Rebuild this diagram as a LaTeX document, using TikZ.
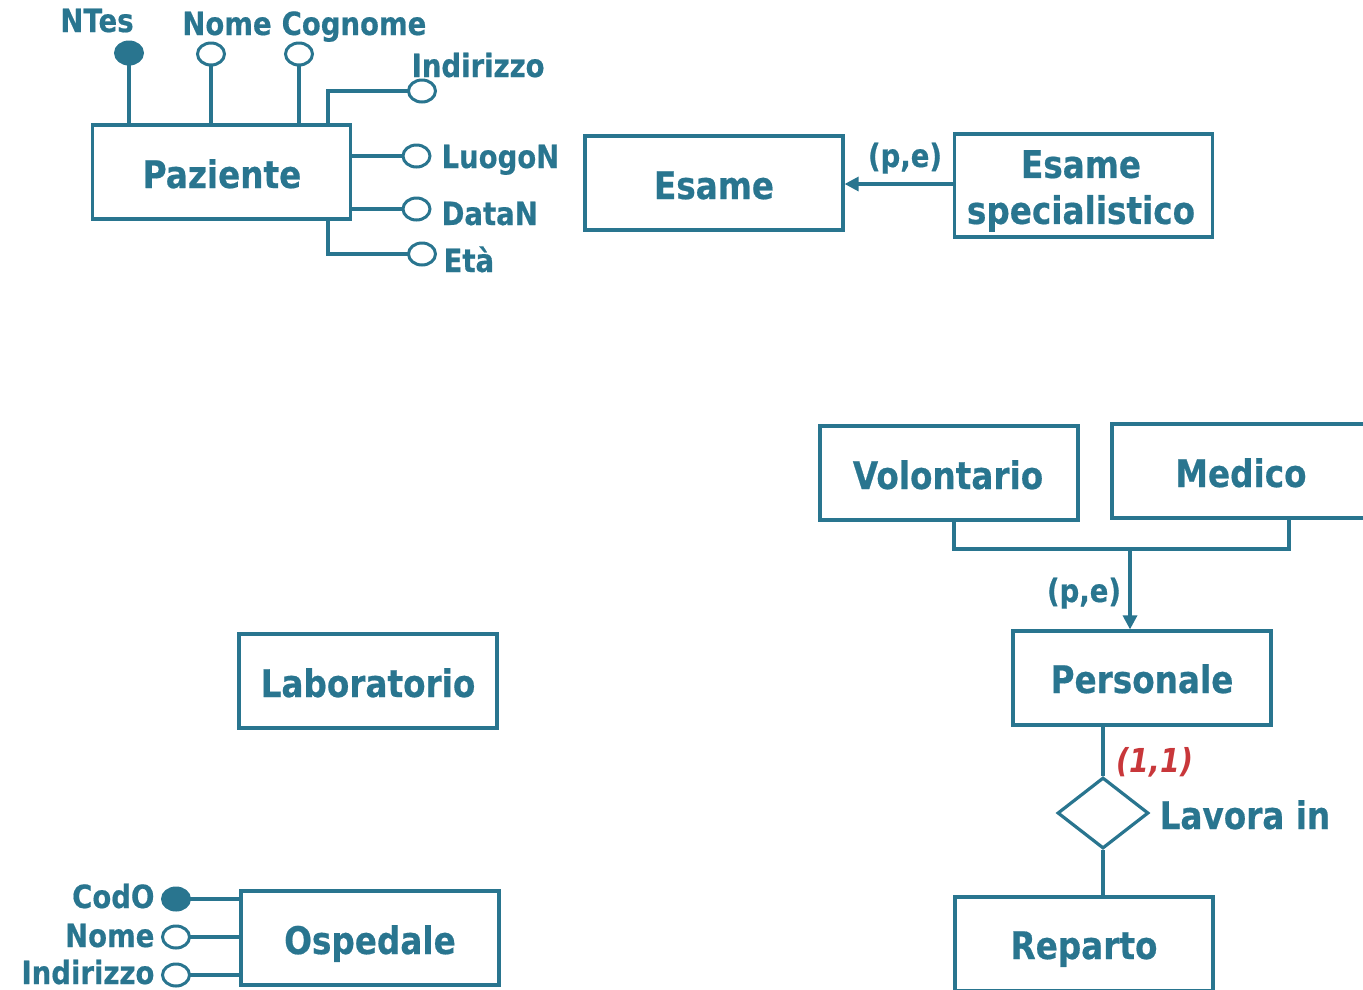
\documentclass[tikz,border=0pt]{standalone}
\usepackage{fontspec}
\setmainfont{DejaVu Sans}[FakeStretch=0.86, BoldFeatures={FakeBold=0.5}]
\usetikzlibrary{shapes.geometric,arrows.meta}
\definecolor{er}{RGB}{41,117,143}
\definecolor{card}{RGB}{200,55,58}
\begin{document}
\begin{tikzpicture}[x=1pt,y=-1pt,
  line width=3.2pt, draw=er,
  entity/.style={draw=er, line width=3.2pt, rectangle, inner sep=0,
    minimum width=258pt, minimum height=94pt},
  etext/.style={text=er, inner sep=0, anchor=base,
    font=\bfseries\fontsize{38}{46}\selectfont},
  atext/.style={text=er, inner sep=0, anchor=base,
    font=\bfseries\fontsize{32}{36}\selectfont},
  attr/.style={draw=er, line width=3pt, ellipse, fill=white, inner sep=0,
    minimum width=27pt, minimum height=22pt},
  keyattr/.style={attr, fill=er},
  rel/.style={draw=er, line width=3.2pt, diamond, aspect=1.28, inner sep=0,
    minimum width=91pt, minimum height=71pt},
  isa/.style={draw=er, line width=3.2pt, -{Triangle[length=14pt,width=14pt]}}
]
\useasboundingbox (0,0) rectangle (1363,989);

% ---------------- Paziente and its attributes ----------------
\node[entity] (paz) at (221.5,172) {};
\node[etext] (pazT) at (222,188) {Paziente};

\coordinate (pazNE) at (328,125);
\coordinate (pazSE) at (328,219);
\coordinate (cNtes) at (129,53);
\coordinate (cNome) at (211,54);
\coordinate (cCogn) at (299,54);
\coordinate (cInd) at (422,91);
\coordinate (cLuogo) at (416.5,156);
\coordinate (cData) at (416.5,209);
\coordinate (cEta) at (422,254);

% connectors first, attribute circles on top of them
\draw (cNtes) -- (cNtes |- paz.north);
\draw (cNome) -- (cNome |- paz.north);
\draw (cCogn) -- (cCogn |- paz.north);
\draw (cInd) -| (pazNE);
\draw (cLuogo) -- (cLuogo -| paz.east);
\draw (cData) -- (cData -| paz.east);
\draw (cEta) -| (pazSE);

\node[keyattr] (ntes) at (cNtes) {};
\node[attr] (pnome) at (cNome) {};
\node[attr] (pcogn) at (cCogn) {};
\node[attr] (pind) at (cInd) {};
\node[attr] (pluogo) at (cLuogo) {};
\node[attr] (pdata) at (cData) {};
\node[attr] (peta) at (cEta) {};

\node[atext] (ntesT) at (97,32) {NTes};
\node[atext] (pnomeT) at (227,35) {Nome};
\node[atext] (pcognT) at (354,35) {Cognome};
\node[atext, anchor=base west] (pindT) at (410,77) {Indirizzo};
\node[atext, anchor=base west] (pluogoT) at (440,168) {LuogoN};
\node[atext, anchor=base west] (pdataT) at (440,225) {DataN};
\node[atext, anchor=base west] (petaT) at (442,272) {Età};

% ---------------- Esame hierarchy ----------------
\node[entity] (esame) at (714,183) {};
\node[etext] (esameT) at (714,199) {Esame};
\node[entity, minimum height=103pt] (spec) at (1083.5,185.5) {};
\node[etext, align=center, anchor=center] (specT) at (1081,191)
  {Esame\\specialistico};
\draw[isa] (spec.west |- 0,184) -- (esame.east |- 0,184);
\node[atext] (pe1) at (905,167) {(p,e)};

% ---------------- Personale hierarchy ----------------
\node[entity] (vol) at (949,473) {};
\node[etext] (volT) at (948,489) {Volontario};
\node[entity, minimum width=260pt] (med) at (1242,471) {};
\node[etext] (medT) at (1241,487) {Medico};
\node[entity] (pers) at (1142,678) {};
\node[etext] (persT) at (1142,693) {Personale};

\coordinate (volB) at (954,520);
\coordinate (medB) at (1289,518);
\coordinate (hub) at (1130,549);
\draw (volB) |- (hub) -| (medB);
\draw[isa] (hub) -- (hub |- pers.north);
\node[atext] (pe2) at (1084,602) {(p,e)};

% ---------------- Lavora in ----------------
\node[rel] (lav) at (1103,813) {};
\node[entity] (rep) at (1084,944) {};
\node[etext] (repT) at (1084,959) {Reparto};
\draw (lav.north) -- (lav.north |- pers.south);
\draw (lav.south) -- (lav.south |- rep.north);
\node[etext, anchor=base west] (lavT) at (1158,829) {Lavora in};
\node[text=card, inner sep=0, anchor=base,
  font=\bfseries\itshape\fontsize{33}{36}\selectfont] (card1) at (1155,772) {(1,1)};

% ---------------- Laboratorio ----------------
\node[entity] (lab) at (368,681) {};
\node[etext] (labT) at (368,697) {Laboratorio};

% ---------------- Ospedale and its attributes ----------------
\node[entity] (osp) at (370,938) {};
\node[etext] (ospT) at (370,954) {Ospedale};
\coordinate (cCodo) at (176,899);
\coordinate (cOnome) at (176,937);
\coordinate (cOind) at (176,975);
\draw (cCodo) -- (cCodo -| osp.west);
\draw (cOnome) -- (cOnome -| osp.west);
\draw (cOind) -- (cOind -| osp.west);
\node[keyattr] (codo) at (cCodo) {};
\node[attr] (onome) at (cOnome) {};
\node[attr] (oind) at (cOind) {};
\node[atext, anchor=base east] (codoT) at (156,908) {CodO};
\node[atext, anchor=base east] (onomeT) at (156,947) {Nome};
\node[atext, anchor=base east] (oindT) at (156,984) {Indirizzo};
\end{tikzpicture}
\end{document}
